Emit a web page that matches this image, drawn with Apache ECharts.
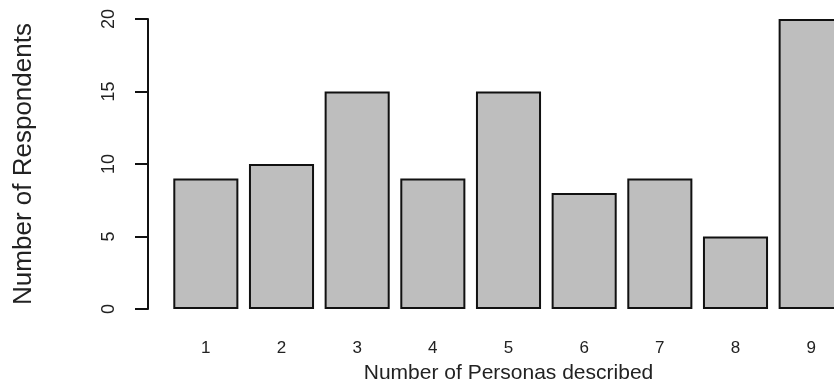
<!DOCTYPE html>
<html>
<head>
<meta charset="utf-8">
<script src="https://cdn.jsdelivr.net/npm/echarts@6/dist/echarts.min.js"></script>
<style>html,body{margin:0;padding:0;background:#fff;}#c{width:834px;height:389px;}</style>
</head>
<body>
<div id="c"></div>
<script>
const categories = ['1','2','3','4','5','6','7','8','9'];
const respondents = [9, 10, 15, 9, 15, 8, 9, 5, 20];
const yTicks = [0, 5, 10, 15, 20];

const chart = echarts.init(document.getElementById('c'), null, {renderer: 'canvas'});
const font = 'Liberation Sans, Arial, sans-serif';
chart.setOption({
  animation: false,
  backgroundColor: '#fff',
  grid: {left: 168, width: 681, top: 19, bottom: 80, containLabel: false, outerBoundsMode: 'none'},
  xAxis: {
    type: 'category',
    data: categories,
    name: 'Number of Personas described',
    nameLocation: 'middle',
    nameGap: 54,
    nameTextStyle: {fontFamily: font, fontSize: 21, color: '#222'},
    axisLine: {show: false},
    axisTick: {show: false},
    axisLabel: {fontFamily: font, fontSize: 17, color: '#222', margin: 31}
  },
  yAxis: {
    type: 'value',
    min: yTicks[0],
    max: yTicks[yTicks.length - 1],
    interval: 5,
    offset: 20,
    name: 'Number of Respondents',
    nameLocation: 'middle',
    nameGap: 111,
    nameTextStyle: {fontFamily: font, fontSize: 26, color: '#222'},
    axisLine: {show: true, lineStyle: {color: '#111', width: 2}},
    axisTick: {show: true, length: 13, lineStyle: {color: '#111', width: 2}},
    axisLabel: {fontFamily: font, fontSize: 18, color: '#222', rotate: 90, margin: 30},
    splitLine: {show: false}
  },
  series: [{
    type: 'bar',
    data: respondents,
    barCategoryGap: '14%',
    itemStyle: {color: '#BEBEBE', borderColor: '#111', borderWidth: 2}
  }]
});
</script>
</body>
</html>
